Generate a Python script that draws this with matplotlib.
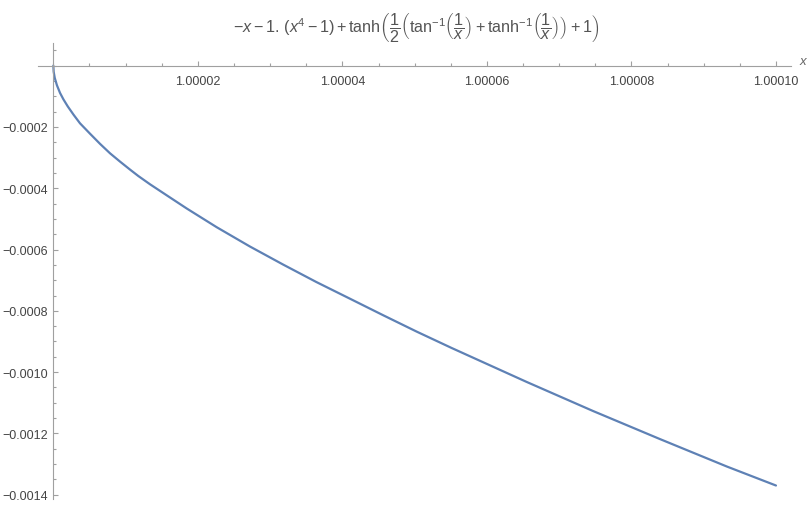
import matplotlib

matplotlib.use("Agg")
import matplotlib.pyplot as plt
from matplotlib.ticker import FixedLocator, MultipleLocator

# 曲線上の点: x - 1 を 1e-6 単位, y を 1e-4 単位で
X_OFFSET_E6 = [0, 0.05, 0.2, 0.5, 0.93, 1.4, 2.0, 2.8, 3.69, 5.08, 6.46,
               7.85, 9.23, 10.61, 11.76, 13.38, 15.69, 18.46, 22.6, 27.2,
               31.8, 36.4, 41.1, 45.7, 50.3, 55.1, 65.5, 74.7, 83.9, 93.2,
               100.0]
Y_E4 = [0, -0.20, -0.40, -0.64, -0.89, -1.10, -1.33, -1.60, -1.88, -2.22,
        -2.55, -2.86, -3.13, -3.39, -3.60, -3.87, -4.23, -4.66, -5.27, -5.90,
        -6.49, -7.06, -7.61, -8.15, -8.68, -9.21, -10.32, -11.27, -12.18,
        -13.08, -13.70]

X_TICKS = [1.00002, 1.00004, 1.00006, 1.00008, 1.00010]
X_TICK_LABELS = ["1.00002", "1.00004", "1.00006", "1.00008", "1.00010"]
Y_TICKS = [-0.0002, -0.0004, -0.0006, -0.0008, -0.0010, -0.0012, -0.0014]
Y_TICK_LABELS = ["\u22120.0002", "\u22120.0004", "\u22120.0006", "\u22120.0008",
                 "\u22120.0010", "\u22120.0012", "\u22120.0014"]

TITLE = (r"$-x-1.\,(x^4-1)+\mathrm{tanh}\left(\dfrac{1}{2}\left(\mathrm{tan}^{-1}"
         r"\left(\dfrac{1}{x}\right)+\mathrm{tanh}^{-1}\left(\dfrac{1}{x}\right)\right)"
         r"+1\right)$")

AXIS_COLOR = "#a0a0a0"
TEXT_COLOR = "#444444"
LINE_COLOR = "#5e81b5"

plt.rcParams["font.family"] = ["Liberation Sans", "DejaVu Sans"]
plt.rcParams["mathtext.fontset"] = "custom"
plt.rcParams["mathtext.rm"] = "Liberation Sans"
plt.rcParams["mathtext.it"] = "Liberation Sans:italic"

xs = [1 + v * 1e-6 for v in X_OFFSET_E6]
ys = [v * 1e-4 for v in Y_E4]

fig = plt.figure(figsize=(8.09, 5.10), dpi=100)
ax = fig.add_axes([38 / 809, 1 - 500 / 510, (791 - 38) / 809, (500 - 44) / 510])

ax.plot(xs, ys, color=LINE_COLOR, lw=1.6, solid_capstyle="round",
        solid_joinstyle="round")

ax.set_xlim(1 - 2.12e-6, 1 + 1.0208e-4)
ax.set_ylim(-1.414e-3, 7.4e-5)

for side in ("top", "right"):
    ax.spines[side].set_visible(False)
ax.spines["left"].set_position(("data", 1.0))
ax.spines["bottom"].set_position(("data", 0.0))
for side in ("left", "bottom"):
    ax.spines[side].set_color(AXIS_COLOR)
    ax.spines[side].set_linewidth(0.8)

ax.xaxis.set_major_locator(FixedLocator(X_TICKS))
ax.set_xticklabels(X_TICK_LABELS)
ax.xaxis.set_minor_locator(MultipleLocator(5e-6))
ax.yaxis.set_major_locator(FixedLocator(Y_TICKS))
ax.set_yticklabels(Y_TICK_LABELS)
ax.yaxis.set_minor_locator(MultipleLocator(5e-5))

ax.tick_params(which="both", direction="in", color=AXIS_COLOR, width=0.8,
               labelcolor=TEXT_COLOR, labelsize=9)
ax.tick_params(which="major", length=3.8)
ax.tick_params(which="minor", length=2.2)
ax.tick_params(axis="x", which="major", pad=7)
ax.tick_params(axis="y", which="major", pad=4)

fig.text(803 / 809, 1 - 62 / 510, "x", style="italic", color="#666666",
         fontsize=9.5, ha="center", va="center")
fig.text(416 / 809, 1 - 28 / 510, TITLE, color="#555555", fontsize=11.6,
         ha="center", va="center")

fig.savefig("out.png", dpi=100)
